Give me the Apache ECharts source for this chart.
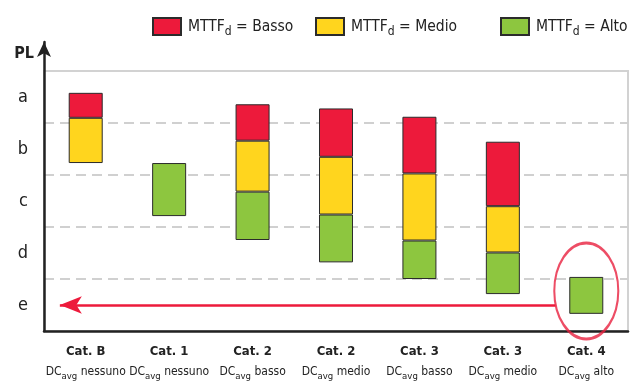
<!DOCTYPE html>
<html>
<head>
<meta charset="utf-8">
<script src="https://cdn.jsdelivr.net/npm/echarts@6/dist/echarts.min.js"></script>
<style>
  html, body { margin: 0; padding: 0; background: #fff; }
  #chart { width: 639px; height: 382px; }
</style>
</head>
<body>
<div id="chart"></div>
<script>
// categorie e livelli DC
const cats = ['Cat. B', 'Cat. 1', 'Cat. 2', 'Cat. 2', 'Cat. 3', 'Cat. 3', 'Cat. 4']
const dcLevels = ['nessuno', 'nessuno', 'basso', 'medio', 'basso', 'medio', 'alto']
const plLevels = ['e', 'd', 'c', 'b', 'a']

// livello PL (0 = fondo di e, 5 = cima di a)
const barBase = [3.23, 2.21, 1.75, 1.32, 1.0, 0.71, 0.33]
const alto = ['-', 1.02, 0.93, 0.92, 0.74, 0.80, 0.71]
const medio = [0.87, '-', 0.98, 1.11, 1.29, 0.89, '-']
const basso = [0.48, '-', 0.70, 0.93, 1.09, 1.24, '-']

// freccia rossa e cerchio su Cat. 4
const arrowLevel = 0.5
const arrowFrom = 6.13
const arrowTo = 0.19
const circleAt = [6, 0.77]

const FONT = '"DejaVu Sans Condensed", "DejaVu Sans", sans-serif'
const INK = '#222'
const RED = '#ED1A3B'
const YELLOW = '#FFD51E'
const GREEN = '#8DC63F'
const EDGE = '#2b2b2b'

const chart = echarts.init(document.getElementById('chart'), null, { renderer: 'canvas' })

function legendAt(left, name) {
  return {
    data: [name],
    left: left,
    top: 12,
    icon: 'rect',
    itemWidth: 28,
    itemHeight: 17,
    selectedMode: false,
    formatter: n => '{t|MTTF}{d|d}{t| = ' + n + '}',
    textStyle: {
      fontFamily: FONT,
      fontSize: 16,
      color: INK,
      padding: [0, 0, 0, 2],
      rich: {
        t: { fontFamily: FONT, fontSize: 15.5, color: INK, lineHeight: 22, verticalAlign: 'middle' },
        d: { fontFamily: FONT, fontSize: 12, color: INK, lineHeight: 12, verticalAlign: 'bottom' }
      }
    }
  }
}

chart.setOption({
  animation: false,
  legend: [legendAt(147, 'Basso'), legendAt(310, 'Medio'), legendAt(495, 'Alto')],
  grid: [
    { left: 44, right: 11, top: 71, bottom: 51, show: true, borderColor: '#d2d2d2', borderWidth: 2 },
    { left: 44, right: 11, top: 42, bottom: 51 }
  ],
  xAxis: [{
    type: 'category',
    gridIndex: 0,
    data: cats.map((c, i) => c + ' ' + dcLevels[i]),
    axisLine: { lineStyle: { color: INK, width: 2.5 } },
    axisTick: { inside: true, length: 9, lineStyle: { color: INK, width: 2 } },
    axisLabel: {
      margin: 11,
      interval: 0,
      formatter: (v, i) => '{cat|' + cats[i] + '}\n{dc|DC}{sub|avg}{dc| ' + dcLevels[i] + '}',
      rich: {
        cat: { fontFamily: FONT, fontSize: 13, fontWeight: 'bold', color: INK, lineHeight: 20 },
        dc: { fontFamily: FONT, fontSize: 12, color: INK, lineHeight: 20, verticalAlign: 'middle' },
        sub: { fontFamily: FONT, fontSize: 9.5, color: INK, lineHeight: 11, verticalAlign: 'bottom' }
      }
    },
    splitLine: { show: false }
  }, {
    type: 'value',
    gridIndex: 0,
    min: 0,
    max: 7,
    show: false
  }, {
    type: 'value',
    gridIndex: 1,
    show: false
  }],
  yAxis: [{
    type: 'value',
    gridIndex: 0,
    min: 0,
    max: 5,
    interval: 1,
    axisLine: { show: false },
    axisTick: { show: false },
    axisLabel: { show: false },
    splitLine: { showMaxLine: false, showMinLine: false, lineStyle: { color: '#d0d0d0', width: 2, type: [10, 6] } }
  }, {
    type: 'category',
    gridIndex: 0,
    data: plLevels,
    position: 'left',
    axisLine: { show: false },
    axisTick: { show: false },
    splitLine: { show: false },
    axisLabel: { margin: 16, fontFamily: FONT, fontSize: 18, color: INK }
  }, {
    type: 'value',
    gridIndex: 1,
    min: 0,
    max: 1,
    name: 'PL',
    nameLocation: 'end',
    nameGap: -12,
    nameTextStyle: {
      fontFamily: FONT, fontSize: 16, fontWeight: 'bold', color: INK,
      align: 'right', verticalAlign: 'middle', padding: [0, 10, 0, 0]
    },
    axisLine: { show: true, symbol: ['none', 'arrow'], symbolSize: [10.5, 15], lineStyle: { color: INK, width: 2.5 } },
    axisTick: { show: false },
    axisLabel: { show: false },
    splitLine: { show: false }
  }],
  series: [{
    type: 'bar',
    name: 'base',
    stack: 'pl',
    barWidth: 34,
    silent: true,
    itemStyle: { color: 'transparent' },
    data: barBase
  }, {
    type: 'bar',
    name: 'Alto',
    stack: 'pl',
    barWidth: 34,
    itemStyle: { color: GREEN, borderColor: EDGE, borderWidth: 1 },
    data: alto
  }, {
    type: 'bar',
    name: 'Medio',
    stack: 'pl',
    barWidth: 34,
    itemStyle: { color: YELLOW, borderColor: EDGE, borderWidth: 1 },
    data: medio
  }, {
    type: 'bar',
    name: 'Basso',
    stack: 'pl',
    barWidth: 34,
    itemStyle: { color: RED, borderColor: EDGE, borderWidth: 1 },
    data: basso
  }, {
    type: 'scatter',
    name: 'cerchio',
    xAxisIndex: 0,
    yAxisIndex: 0,
    silent: true,
    symbol: 'circle',
    symbolSize: [64, 96],
    itemStyle: { color: 'rgba(0,0,0,0)', borderColor: '#E8203F', borderWidth: 2.5 },
    data: [circleAt],
    z: 5
  }, {
    type: 'line',
    name: 'freccia',
    xAxisIndex: 1,
    yAxisIndex: 0,
    data: [],
    silent: true,
    markLine: {
      silent: true,
      symbol: ['arrow', 'none'],
      symbolSize: [13, 22],
      label: { show: false },
      lineStyle: { color: RED, width: 2.5, type: 'solid' },
      data: [[{ coord: [arrowTo, arrowLevel] }, { coord: [arrowFrom, arrowLevel] }]]
    }
  }]
})
</script>
</body>
</html>
